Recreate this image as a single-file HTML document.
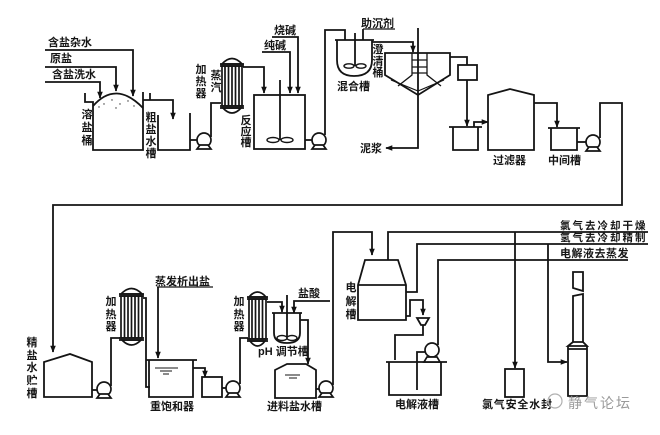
<!DOCTYPE html>
<html><head><meta charset="utf-8">
<style>
html,body{margin:0;padding:0;background:#fff;}
svg{display:block;}
text{font-family:"Liberation Sans","Noto Sans CJK SC",sans-serif;font-weight:bold;fill:#151515;font-size:11px;}
.v{text-anchor:middle;dominant-baseline:central;}
</style></head>
<body>
<svg width="660" height="435" viewBox="0 0 660 435" xmlns="http://www.w3.org/2000/svg">
<defs>
<marker id="a" viewBox="0 0 10 10" refX="9" refY="5" markerUnits="userSpaceOnUse" markerWidth="7" markerHeight="7" orient="auto"><path d="M0,1 L10,5 L0,9 z" fill="#111"/></marker>
</defs>
<rect width="660" height="435" fill="#fff"/>
<g fill="none" stroke="#141414" stroke-width="1.8">
<path d="M45,50 H133 V96" marker-end="url(#a)"/>
<path d="M45,67 H116 V91" marker-end="url(#a)"/>
<path d="M45,82 H100 V98" marker-end="url(#a)"/>
<path d="M85,93 V102 H93 V150 H143 V92"/>
<path d="M150,93 V100"/>
<path d="M93,106 Q116,80 143,108"/>
<path d="M143,100 H173 V119" marker-end="url(#a)"/>
<path d="M158,115 V150 H190 V113"/>
<path d="M190,140 H197"/>
<path d="M211,137 V103 H221"/>
<path d="M243,67 H264 V93" marker-end="url(#a)"/>
<rect x="254" y="95" width="51" height="54"/>
<path d="M280,80 V140"/>
<path d="M272,37 H298 V93" marker-end="url(#a)"/>
<path d="M262,52 H290 V93" marker-end="url(#a)"/>
<path d="M305,140 H312"/>
<path d="M325,135 V30 H345 V40"/>
<path d="M337,40 V60 Q337,76 354,76 Q372,76 372,60 V40"/>
<path d="M335,40 H374"/>
<path d="M363,29 V40"/>
<path d="M363,29 H395" stroke-width="1.2"/>
<path d="M355,33 V66"/>
<path d="M372,42 H413 V52" marker-end="url(#a)"/>
<path d="M385,53 H450 V75 L418,95 L385,75 Z"/>
<path d="M391,80 L418,91 L444,80" stroke-width="1.2"/>
<path d="M412,53 V75 L398,86 M427,53 V75 L441,86" stroke-width="1.3"/>
<path d="M412,60 H427 M412,67 H427 M412,73 H427" stroke-width="1.3"/>
<path d="M418,28 V148 H386" marker-end="url(#a)"/>
<path d="M450,57 H467 V65"/>
<rect x="458" y="65" width="19" height="15"/>
<path d="M467,80 V126" marker-end="url(#a)"/>
<path d="M449,127 H482 M453,127 V150 H478 V127"/>
<path d="M474,127 V122 H488" marker-end="url(#a)"/>
<path d="M488,150 V95 L510,89 L534,95 V150 Z"/>
<path d="M534,103 H557 V127" marker-end="url(#a)"/>
<path d="M548,128 H580 M551,128 V150 H577 V128"/>
<path d="M577,142 H586"/>
<path d="M600,138 V103 H622 V205 H53 V352" marker-end="url(#a)"/>
<path d="M44,397 V362 L70,354 L92,362 V397 Z"/>
<path d="M92,390 H97"/>
<path d="M111,386 V338 H120"/>
<path d="M143,298 H146 V387 H150"/>
<path d="M157,287 H213" stroke-width="1.2"/>
<path d="M158,287 V358" marker-end="url(#a)"/>
<path d="M146,360 H197 M149,360 V397 H193 V360"/>
<path d="M155,368 H178 M160,371 H172 M163,374 H169" stroke-width="1.1"/>
<path d="M193,368 H205 V377" marker-end="url(#a)"/>
<rect x="202" y="377" width="20" height="20"/>
<path d="M222,388 H226"/>
<path d="M240,384 V338 H248"/>
<path d="M267,302 H282 V312" marker-end="url(#a)"/>
<path d="M272,313 H302"/>
<path d="M274,313 V333 Q274,343 287,343 Q300,343 300,333 V313"/>
<path d="M287,295 V339"/>
<path d="M330,301 H294 V313" marker-end="url(#a)"/>
<path d="M300,320 H308 V364" marker-end="url(#a)"/>
<path d="M275,398 V370 L287,364 H306 L316,370 V398 Z"/>
<path d="M285,375 H300 M289,378 H297" stroke-width="1.1"/>
<path d="M316,389 H319"/>
<path d="M333,385 V232 H372 V255" marker-end="url(#a)"/>
<path d="M365,260 H398 L406,285 V320 H358 V285 Z"/>
<path d="M358,285 H406"/>
<path d="M388,260 V232 H648"/>
<path d="M406,292 H417 V244 H648"/>
<path d="M438,345 V260 H628"/>
<path d="M406,316 H410 V300 H423 V315" marker-end="url(#a)"/>
<path d="M417,318 H429 L425,325 H421 Z"/>
<path d="M423,325 V335 H395 V360"/>
<path d="M386,362 H447 M389,362 V395 H441 V362"/>
<path d="M425,352 H417 V390"/>
<path d="M515,232 V368" marker-end="url(#a)"/>
<rect x="505" y="369" width="19" height="28"/>
<path d="M548,244 V362 H567" marker-end="url(#a)"/>
<path d="M573,272 H583 V291 L573,288 Z"/>
<path d="M573,296 L583,294 V342 H573 Z"/>
<path d="M573,342 L568,346 H587 L583,342"/>
<path d="M568,349 H587"/>
<path d="M568,346 V396 H587 V346"/>
</g>
<g fill="#fff" stroke="#141414" stroke-width="1.4">
<ellipse cx="273" cy="140" rx="6" ry="2.5"/><ellipse cx="287" cy="140" rx="6" ry="2.5"/>
<ellipse cx="349" cy="66" rx="5" ry="2.2"/><ellipse cx="361" cy="66" rx="5" ry="2.2"/>
<ellipse cx="282" cy="338" rx="5" ry="2.5"/><ellipse cx="292" cy="338" rx="5" ry="2.5"/>
</g>
<g fill="#fff" stroke="#141414" stroke-width="1.7">
<g><circle cx="204" cy="140" r="7"/><path d="M197,149 H211 L208,145 H200 Z"/></g>
<g><circle cx="319" cy="140" r="7"/><path d="M312,149 H326 L323,145 H315 Z"/></g>
<g><circle cx="593" cy="142" r="7"/><path d="M586,151 H600 L597,147 H589 Z"/></g>
<g><circle cx="104" cy="389" r="7"/><path d="M97,398 H111 L108,394 H100 Z"/></g>
<g><circle cx="233" cy="388" r="7"/><path d="M226,397 H240 L237,393 H229 Z"/></g>
<g><circle cx="326" cy="388" r="7"/><path d="M319,397 H333 L330,393 H322 Z"/></g>
<g><circle cx="432" cy="350" r="7"/><path d="M424,362 H440 L437,357 H427 Z"/></g>
<path d="M222,64 Q232,53 242,64 Z"/>
<rect x="222" y="66" width="20" height="40"/>
<path d="M223,108 Q232,118 241,108 Z"/>
<path d="M121,294 Q131.5,283 142,294 Z"/>
<rect x="121" y="296" width="21" height="42"/>
<path d="M122,340 Q131.5,350 141,340 Z"/>
<path d="M249,297 Q257.5,287 266,297 Z"/>
<rect x="249" y="299" width="17" height="40"/>
<path d="M250,341 Q257.5,351 265,341 Z"/>
</g>
<g stroke="#141414" stroke-width="1.7" fill="none">
<path d="M220,64 H244 M220,66 H244 M220,106 H244 M220,108 H244"/>
<path d="M225,66 V106 M228.5,66 V106 M232,66 V106 M235.5,66 V106 M239,66 V106"/>
<path d="M119,294 H144 M119,296 H144 M119,338 H144 M119,340 H144"/>
<path d="M124.5,296 V338 M128,296 V338 M131.5,296 V338 M135,296 V338 M138.5,296 V338"/>
<path d="M247,297 H268 M247,299 H268 M247,339 H268 M247,341 H268"/>
<path d="M252,299 V339 M255.5,299 V339 M259,299 V339 M262.5,299 V339"/>
</g>
<g fill="#333">
<circle cx="104" cy="104" r="0.7"/><circle cx="112" cy="100" r="0.7"/><circle cx="120" cy="104" r="0.7"/><circle cx="128" cy="101" r="0.7"/><circle cx="134" cy="106" r="0.7"/><circle cx="116" cy="108" r="0.7"/><circle cx="99" cy="107" r="0.7"/>
</g>
<text x="48" y="46">含盐杂水</text>
<text x="50" y="62">原盐</text>
<text x="52" y="78">含盐洗水</text>
<text class="v" x="87" y="115">溶</text><text class="v" x="87" y="128">盐</text><text class="v" x="87" y="141">桶</text>
<text class="v" x="151" y="118">粗</text><text class="v" x="151" y="130">盐</text><text class="v" x="151" y="142">水</text><text class="v" x="151" y="154">槽</text>
<text class="v" x="201" y="70">加</text><text class="v" x="201" y="82">热</text><text class="v" x="201" y="94">器</text>
<text class="v" x="216" y="76">蒸</text><text class="v" x="216" y="88">汽</text>
<text class="v" x="246" y="121">反</text><text class="v" x="246" y="132">应</text><text class="v" x="246" y="143">槽</text>
<text x="274" y="34">烧碱</text>
<text x="264" y="49">纯碱</text>
<text x="361" y="27">助沉剂</text>
<text x="337" y="90">混合槽</text>
<text class="v" x="378" y="50">澄</text><text class="v" x="378" y="62">清</text><text class="v" x="378" y="73">桶</text>
<text x="360" y="152">泥浆</text>
<text x="493" y="164">过滤器</text>
<text x="548" y="164">中间槽</text>
<text class="v" x="32" y="343">精</text><text class="v" x="32" y="356">盐</text><text class="v" x="32" y="368">水</text><text class="v" x="32" y="381">贮</text><text class="v" x="32" y="394">槽</text>
<text class="v" x="111" y="302">加</text><text class="v" x="111" y="315">热</text><text class="v" x="111" y="327">器</text>
<text x="155" y="285">蒸发析出盐</text>
<text x="150" y="410">重饱和器</text>
<text class="v" x="239" y="302">加</text><text class="v" x="239" y="315">热</text><text class="v" x="239" y="327">器</text>
<text x="298" y="297">盐酸</text>
<text x="258" y="355">pH 调节槽</text>
<text x="267" y="410">进料盐水槽</text>
<text class="v" x="351" y="288">电</text><text class="v" x="351" y="302">解</text><text class="v" x="351" y="315">槽</text>
<text x="395" y="408">电解液槽</text>
<text x="560" y="229" style="font-size:10.5px;letter-spacing:2px">氯气去冷却干燥</text>
<text x="560" y="241" style="font-size:10.5px;letter-spacing:2px">氢气去冷却精制</text>
<text x="560" y="257" style="letter-spacing:0.5px">电解液去蒸发</text>
<text x="482" y="408" style="letter-spacing:0.8px">氯气安全水封</text>
<circle cx="555" cy="401" r="7" fill="none" stroke="#b0b0b0" stroke-width="1.2"/>
<text x="568" y="408" style="font-weight:normal;fill:#9a9a9a;font-size:14px;letter-spacing:2px">静气论坛</text>
</svg>
</body></html>
